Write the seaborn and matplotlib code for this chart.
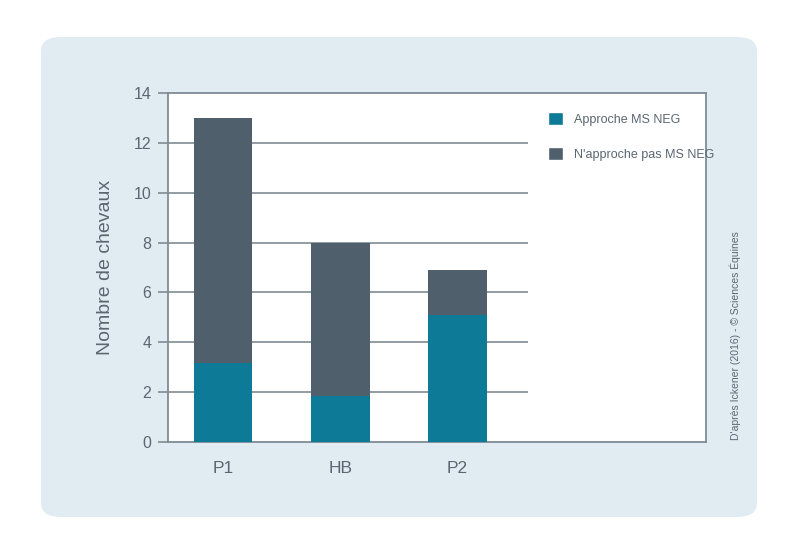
import matplotlib
matplotlib.use("Agg")
import matplotlib.pyplot as plt
import seaborn as sns
import pandas as pd
from matplotlib.patches import FancyBboxPatch, Patch

# Données
groupes = ["P1", "HB", "P2"]
approche = [3.15, 1.85, 5.1]
n_approche_pas = [9.85, 6.15, 1.8]
yticks = [0, 2, 4, 6, 8, 10, 12, 14]

totaux = [a + b for a, b in zip(approche, n_approche_pas)]
df = pd.DataFrame({"groupe": groupes, "approche": approche, "total": totaux})

bleu = "#0d7a97"
gris = "#4f5f6b"
texte = "#5b6670"
ligne = "#7f8b94"

sns.set_style("white")
plt.rcParams["font.family"] = ["Liberation Sans", "DejaVu Sans"]

fig = plt.figure(figsize=(8, 5.59), dpi=100)
fig.patch.set_facecolor("white")

# panneau bleu clair arrondi
panneau = FancyBboxPatch((41 / 800, 1 - 517 / 559), 716 / 800, 480 / 559,
                         boxstyle="round,pad=0,rounding_size=0.025",
                         transform=fig.transFigure, facecolor="#e1ecf2",
                         edgecolor="none", zorder=-10)
fig.add_artist(panneau)

ax = fig.add_axes([168 / 800, 1 - 442 / 559, 538 / 800, 349 / 559])
ax.set_zorder(1)
ax.set_facecolor("white")

sns.barplot(data=df, x="groupe", y="total", color=gris, width=0.5,
            saturation=1, linewidth=0, ax=ax, zorder=3)
sns.barplot(data=df, x="groupe", y="approche", color=bleu, width=0.5,
            saturation=1, linewidth=0, ax=ax, zorder=4)

ax.set_xlim(-0.47, 4.12)
ax.set_ylim(0, 14)
ax.set_yticks(yticks)
ax.set_yticklabels([str(t) for t in yticks], fontsize=11.5, color=texte)
ax.set_xticklabels(groupes, fontsize=12.5, color=texte)
ax.tick_params(axis="y", length=7, color=ligne, width=1.2, pad=5, left=True)
ax.tick_params(axis="x", length=0, pad=14)

# lignes de grille courtes
ax.hlines(yticks[1:-1], -0.47, 2.6, color=ligne, lw=1.2, zorder=1)

for s in ax.spines.values():
    s.set_color(ligne)
    s.set_linewidth(1.3)

ax.set_xlabel("")
ax.set_ylabel("Nombre de chevaux", fontsize=14, color=texte, labelpad=14)

handles = [Patch(facecolor=bleu, label="Approche MS NEG"),
           Patch(facecolor=gris, label="N'approche pas MS NEG")]
leg = ax.legend(handles=handles, loc="upper left", bbox_to_anchor=(0.685, 0.978),
                frameon=False, fontsize=9, handlelength=1.2, handleheight=1.2,
                labelspacing=1.75, handletextpad=0.9)
for t in leg.get_texts():
    t.set_color(texte)

fig.text(735 / 800, 1 - 440 / 559, "D'après Ickener (2016) - © Sciences Équines",
         rotation=90, fontsize=7.5, color=texte, ha="center", va="bottom")

fig.savefig("out.png", dpi=100)
